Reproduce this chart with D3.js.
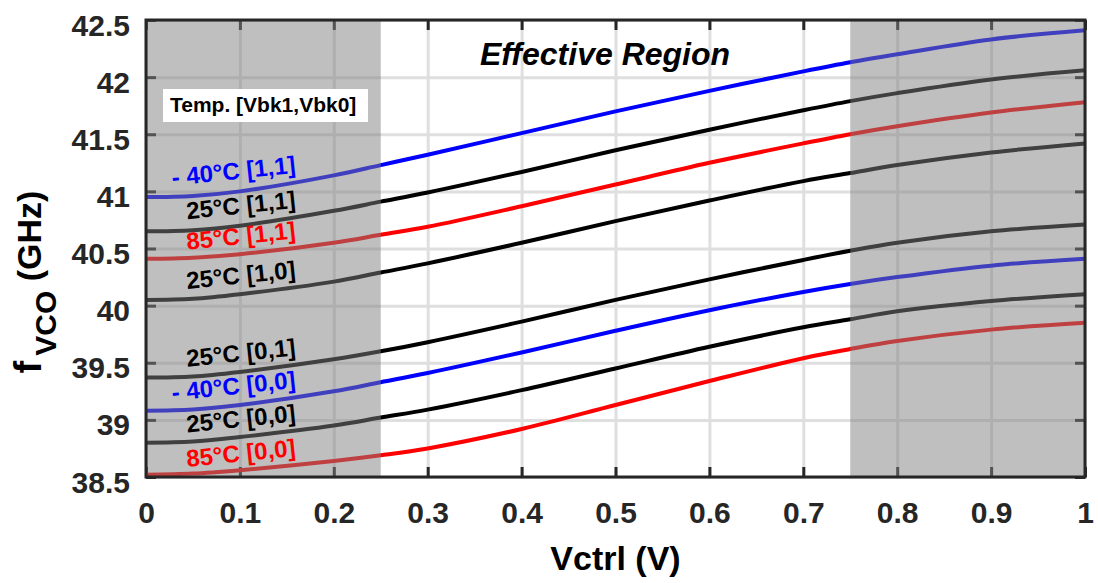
<!DOCTYPE html>
<html>
<head>
<meta charset="utf-8">
<script src="https://cdn.jsdelivr.net/npm/d3@7"></script>
<style>
  body { margin: 0; background: #fff; }
  text { font-family: "Liberation Sans", Arial, sans-serif; font-weight: bold; }
</style>
</head>
<body>
<div id="chart"></div>
<script>
// control voltage samples (V)
var vctrl = [0, 0.05, 0.1, 0.2, 0.25, 0.3, 0.4, 0.5, 0.6, 0.7, 0.75, 0.8, 0.9, 1];

// fVCO (GHz), one array per temperature / [Vbk1,Vbk0] setting
var fM40_11 = [40.95, 40.96, 41.00, 41.14, 41.23, 41.32, 41.51, 41.70, 41.88, 42.05, 42.13, 42.20, 42.33, 42.41];
var f25_11  = [40.65, 40.66, 40.70, 40.83, 40.91, 40.99, 41.17, 41.36, 41.54, 41.71, 41.79, 41.86, 41.98, 42.06];
var f85_11  = [40.41, 40.42, 40.45, 40.55, 40.62, 40.69, 40.87, 41.06, 41.25, 41.42, 41.50, 41.57, 41.69, 41.78];
var f25_10  = [40.05, 40.06, 40.10, 40.21, 40.29, 40.37, 40.55, 40.74, 40.92, 41.09, 41.16, 41.23, 41.34, 41.42];
var f25_01  = [39.37, 39.38, 39.42, 39.53, 39.60, 39.68, 39.86, 40.05, 40.23, 40.40, 40.48, 40.55, 40.65, 40.71];
var fM40_00 = [39.08, 39.09, 39.13, 39.25, 39.33, 39.41, 39.59, 39.78, 39.96, 40.12, 40.19, 40.25, 40.35, 40.41];
var f25_00  = [38.80, 38.81, 38.85, 38.95, 39.02, 39.09, 39.26, 39.45, 39.64, 39.81, 39.88, 39.95, 40.04, 40.10];
var f85_00  = [38.52, 38.53, 38.56, 38.64, 38.69, 38.75, 38.92, 39.13, 39.34, 39.54, 39.62, 39.69, 39.79, 39.85];

var seriesLabels = ["- 40°C [1,1]", "25°C [1,1]", "85°C [1,1]", "25°C [1,0]",
                    "25°C [0,1]", "- 40°C [0,0]", "25°C [0,0]", "85°C [0,0]"];

var xTicks = [0, 0.1, 0.2, 0.3, 0.4, 0.5, 0.6, 0.7, 0.8, 0.9, 1];
var yTicks = [38.5, 39, 39.5, 40, 40.5, 41, 41.5, 42, 42.5];

// shaded (non effective) ranges of Vctrl
var shadeBands = [[0, 0.25], [0.75, 1]];

(function(){
  var width = 1098,
    height = 583;

  var svg = d3.select("#chart")
    .append("svg")
    .attr("width", width)
    .attr("height", height)

  var x = d3.scaleLinear().domain([0, 1]).range([146, 1085])
  var y = d3.scaleLinear().domain([38.5, 42.5]).range([477, 20])

  var left = x.range()[0], right = x.range()[1],
    top = y.range()[1], bottom = y.range()[0];

  var series = [
    {vals: fM40_11, color: "#0000ff"},
    {vals: f25_11, color: "#000000"},
    {vals: f85_11, color: "#ff0000"},
    {vals: f25_10, color: "#000000"},
    {vals: f25_01, color: "#000000"},
    {vals: fM40_00, color: "#0000ff"},
    {vals: f25_00, color: "#000000"},
    {vals: f85_00, color: "#ff0000"}
  ];
  series.forEach(function(s, i){ s.label = seriesLabels[i]; });

  // grid
  svg.append("g")
    .attr("transform", "translate(0," + bottom + ")")
    .call(d3.axisBottom(x).tickValues(xTicks).tickSize(-(bottom - top)).tickFormat(""))
    .call(function(g){ g.select(".domain").remove(); })
    .selectAll("line").attr("stroke", "#dfdfdf").attr("stroke-width", 3)

  svg.append("g")
    .attr("transform", "translate(" + left + ",0)")
    .call(d3.axisLeft(y).tickValues(yTicks).tickSize(-(right - left)).tickFormat(""))
    .call(function(g){ g.select(".domain").remove(); })
    .selectAll("line").attr("stroke", "#dfdfdf").attr("stroke-width", 3)

  // inner tick marks on all four sides
  var tickAxes = [
    [d3.axisBottom(x).tickValues(xTicks), "translate(0," + bottom + ")"],
    [d3.axisTop(x).tickValues(xTicks), "translate(0," + top + ")"],
    [d3.axisLeft(y).tickValues(yTicks), "translate(" + left + ",0)"],
    [d3.axisRight(y).tickValues(yTicks), "translate(" + right + ",0)"]
  ];
  tickAxes.forEach(function(a){
    svg.append("g")
      .attr("transform", a[1])
      .call(a[0].tickSize(-10).tickFormat(""))
      .call(function(g){ g.select(".domain").remove(); })
      .selectAll("line").attr("stroke", "#262626").attr("stroke-width", 3)
  });

  // curves
  var line = d3.line()
    .x(function(d, i){ return x(vctrl[i]); })
    .y(function(d){ return y(d); })
    .curve(d3.curveCatmullRom.alpha(0.5))

  svg.selectAll(".curve")
    .data(series)
    .enter().append("path")
    .attr("class", "curve")
    .attr("d", function(d){ return line(d.vals); })
    .attr("fill", "none")
    .attr("stroke", function(d){ return d.color; })
    .attr("stroke-width", 4)

  // gray overlay for the non effective regions
  svg.selectAll(".band")
    .data(shadeBands)
    .enter().append("rect")
    .attr("class", "band")
    .attr("x", function(d){ return x(d[0]); })
    .attr("width", function(d){ return x(d[1]) - x(d[0]); })
    .attr("y", top)
    .attr("height", bottom - top)
    .attr("fill", "#808080")
    .attr("fill-opacity", 0.5)

  // box
  svg.append("rect")
    .attr("x", left).attr("y", top)
    .attr("width", right - left).attr("height", bottom - top)
    .attr("fill", "none")
    .attr("stroke", "#262626")
    .attr("stroke-width", 3)

  // tick labels
  var xl = svg.append("g")
    .attr("transform", "translate(0," + bottom + ")")
    .call(d3.axisBottom(x).tickValues(xTicks).tickSize(0).tickFormat(d3.format("")))
  xl.select(".domain").remove()
  xl.selectAll("text")
    .attr("y", 46).attr("dy", 0)
    .attr("font-size", 30)
    .attr("fill", "#262626")

  var yl = svg.append("g")
    .attr("transform", "translate(" + left + ",0)")
    .call(d3.axisLeft(y).tickValues(yTicks).tickSize(0).tickPadding(16).tickFormat(d3.format("")))
  yl.select(".domain").remove()
  yl.selectAll("text")
    .attr("dy", "0.5em")
    .attr("font-size", 30)
    .attr("fill", "#262626")

  // axis titles
  svg.append("text")
    .attr("x", (left + right) / 2)
    .attr("y", 570)
    .attr("text-anchor", "middle")
    .attr("font-size", 34)
    .attr("fill", "#000")
    .text("Vctrl (V)")

  var yt = svg.append("text")
    .attr("transform", "translate(41," + 282 + ") rotate(-90)")
    .attr("text-anchor", "middle")
    .attr("font-size", 34)
    .attr("fill", "#000")
  yt.append("tspan").attr("font-size", 38).text("f")
  yt.append("tspan").attr("font-size", 30).attr("dx", 5).attr("dy", 15).text("VCO")
  yt.append("tspan").attr("dy", -15).text(" (GHz)")

  // curve labels, laid along the curves inside the left band
  var labelAt = 0.16;
  function valueAt(vals, v) {
    var i = d3.bisectRight(vctrl, v);
    var t = (v - vctrl[i - 1]) / (vctrl[i] - vctrl[i - 1]);
    return vals[i - 1] + t * (vals[i] - vals[i - 1]);
  }
  svg.selectAll(".clabel")
    .data(series)
    .enter().append("text")
    .attr("class", "clabel")
    .attr("text-anchor", "end")
    .attr("font-size", 24)
    .attr("fill", function(d){ return d.color; })
    .attr("transform", function(d){
      var px = x(labelAt), py = y(valueAt(d.vals, labelAt)) - 9;
      return "translate(" + px + "," + py + ") rotate(-6)";
    })
    .text(function(d){ return d.label; })

  // legend key box
  svg.append("rect")
    .attr("x", 163).attr("y", 89)
    .attr("width", 205).attr("height", 33)
    .attr("fill", "#fff")
  svg.append("text")
    .attr("x", 170).attr("y", 112)
    .attr("font-size", 21)
    .attr("fill", "#000")
    .text("Temp. [Vbk1,Vbk0]")

  svg.append("text")
    .attr("x", 605).attr("y", 65)
    .attr("text-anchor", "middle")
    .attr("font-size", 32)
    .attr("font-style", "italic")
    .attr("fill", "#000")
    .text("Effective Region")
})();
</script>
</body>
</html>
